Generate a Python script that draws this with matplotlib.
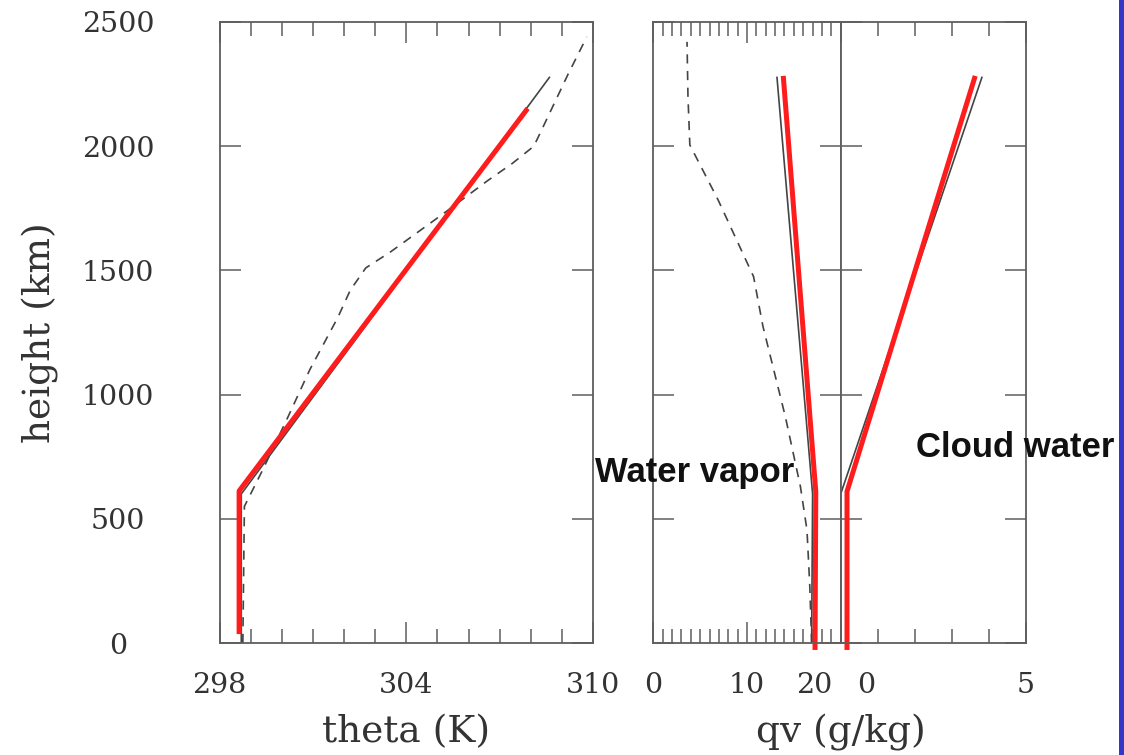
import numpy as np
import matplotlib
matplotlib.use('Agg')
from matplotlib import pyplot as plt
from matplotlib import font_manager
from matplotlib.patches import Rectangle
from matplotlib.transforms import ScaledTranslation

# sounding (dashed), model profile (thin solid) and fitted profile (red)
z_obs_theta = [0, 550, 700, 910, 1100, 1310, 1420, 1510, 1575, 1720, 1860, 1930, 2000, 2105, 2290, 2440]
theta_obs = [298.75, 298.8, 299.4, 300.2, 300.9, 301.8, 302.2, 302.7, 303.5, 305.1, 306.6, 307.4, 308.1, 308.5, 309.2, 309.8]
z_model = [0, 600, 2277]
theta_model = [298.7, 298.7, 308.6]
z_fit_theta = [36, 612, 2152]
theta_fit = [298.63, 298.63, 307.9]

z_obs_qv = [0, 230, 455, 630, 910, 1275, 1475, 1785, 2005, 2200, 2420]
qv_obs = [16.9, 16.7, 16.4, 15.7, 14.1, 11.7, 10.7, 6.9, 3.9, 3.7, 3.6]
qv_model = [16.9, 17.0, 13.2]
qc_model = [0.0, 0.0, 3.81]
z_fit_q = [-28, 610, 2283]
qv_fit = [17.26, 17.34, 13.87]
qc_fit = [0.17, 0.17, 3.63]

height_ticks = [0, 500, 1000, 1500, 2000, 2500]

W, H = 1124, 755
fig = plt.figure(figsize=(W / 100, H / 100), dpi=100)

axis_grey = '#5e5e5e'
line_grey = '#444444'
red = '#ff1c1c'
tick_font = dict(family='DejaVu Serif', size=20.5, color='#333333')
label_font = dict(family='DejaVu Serif', size=27, color='#333333')


def add_axes(x0, x1):
  return fig.add_axes([x0 / W, (H - 643) / H, (x1 - x0) / W, 621 / H])


def style(ax, xlim, major, minor):
  ax.set_xlim(*xlim)
  ax.set_ylim(0, 2500)
  for s in ax.spines.values():
    s.set_color(axis_grey)
    s.set_linewidth(1.3)
  ax.set_xticks(major)
  ax.set_xticks(minor, minor=True)
  ax.set_yticks(height_ticks)
  ax.tick_params(which='both', direction='in', top=True, right=True,
                 color=axis_grey, width=1.1)
  ax.tick_params(axis='x', which='major', length=15, pad=21)
  ax.tick_params(axis='x', which='minor', length=10)
  ax.tick_params(axis='y', which='major', length=15)
  for lab in ax.get_xticklabels():
    lab.set_fontfamily(tick_font['family'])
    lab.set_fontsize(tick_font['size'])
    lab.set_color(tick_font['color'])


def shift(label, dx):
  label.set_transform(label.get_transform() + ScaledTranslation(dx / 100, 0, fig.dpi_scale_trans))


dash = (0, (5.5, 4.5))

# potential temperature
ax1 = add_axes(219.5, 593)
style(ax1, (298, 310), [298, 304, 310], np.arange(299, 310))
ax1.set_xticklabels(['298', '304', '310'])
ax1.set_yticklabels([str(v) for v in height_ticks])
ax1.tick_params(axis='y', pad=73)
for lab in ax1.get_yticklabels():
  lab.set_horizontalalignment('center')
  lab.set_fontfamily(tick_font['family'])
  lab.set_fontsize(tick_font['size'])
  lab.set_color(tick_font['color'])
ax1.plot(theta_obs, z_obs_theta, color=line_grey, lw=1.2, ls=dash)
ax1.plot(theta_model, z_model, color=line_grey, lw=1.2)
ax1.plot(theta_fit, z_fit_theta, color=red, lw=3.6, solid_capstyle='butt', clip_on=False)
ax1.set_xlabel('theta (K)', **label_font)
ax1.xaxis.set_label_coords(0.5, -0.115)
ax1.set_ylabel('height (km)', **label_font)
ax1.yaxis.set_label_coords(-0.43, 0.5)

# water vapor mixing ratio
ax2 = add_axes(653.3, 840.7)
style(ax2, (0, 20), [0, 10, 20], np.arange(1, 20))
ax2.set_xticklabels(['0', '10', '20'])
ax2.set_yticklabels([])
ax2.get_xticklabels()[2].set_horizontalalignment('right')
shift(ax2.get_xticklabels()[2], -8)
ax2.plot(qv_obs, z_obs_qv, color=line_grey, lw=1.2, ls=dash)
ax2.plot(qv_model, z_model, color=line_grey, lw=1.2)
ax2.plot(qv_fit, z_fit_q, color=red, lw=3.6, solid_capstyle='butt', clip_on=False)
ax2.set_xlabel('qv (g/kg)', **label_font)
ax2.xaxis.set_label_coords(1.0, -0.115)

# cloud water mixing ratio
ax3 = add_axes(840.7, 1026)
style(ax3, (0, 5), [0, 5], np.arange(1, 5))
ax3.set_xticklabels(['0', '5'])
ax3.set_yticklabels([])
ax3.get_xticklabels()[0].set_horizontalalignment('left')
shift(ax3.get_xticklabels()[0], 16)
ax3.plot(qc_model, z_model, color=line_grey, lw=1.2)
ax3.plot(qc_fit, z_fit_q, color=red, lw=3.6, solid_capstyle='butt', clip_on=False)

# bold annotations
names = {f.name for f in font_manager.fontManager.ttflist}
if 'Liberation Sans Narrow' in names:
  note_font = dict(family='Liberation Sans Narrow', size=30, weight='bold')
else:
  note_font = dict(family='Liberation Sans', size=25, weight='bold')
fig.text(595 / W, (H - 482) / H, 'Water vapor', va='baseline', ha='left', color='#111111', **note_font)
fig.text(916 / W, (H - 457) / H, 'Cloud water', va='baseline', ha='left', color='#111111', **note_font)

fig.patches.append(Rectangle((1119.3 / W, 0), 5 / W, 1, transform=fig.transFigure,
                             facecolor='#3535c8', edgecolor='none'))

fig.savefig('out.png', dpi=100)
